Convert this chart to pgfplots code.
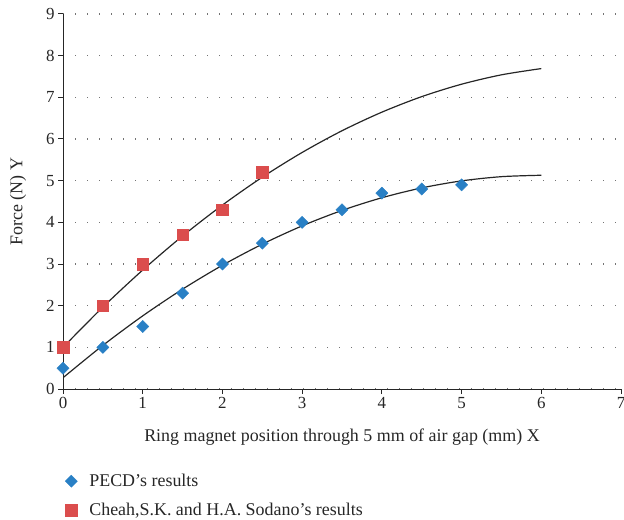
\documentclass[border=0pt]{standalone}
\usepackage{pgfplots}
\pgfplotsset{compat=1.18}
\usepackage{fontspec}
\setmainfont{Liberation Serif}
\definecolor{pblue}{RGB}{41,128,197}
\definecolor{pred}{RGB}{219,77,77}
\begin{document}
\begin{tikzpicture}
\begin{axis}[
  scale only axis, width=558bp, height=375bp,
  xmin=0, xmax=7, ymin=0, ymax=9,
  xtick={0,1,2,3,4,5,6,7}, ytick={0,1,2,3,4,5,6,7,8,9},
  axis x line=bottom, axis y line=left,
  axis line style={-, line width=1bp, black!85},
  tick align=outside, major tick length=5bp,
  tick style={black!85, line width=1bp},
  ymajorgrids,
  grid style={black!55, line width=1.2bp, dash pattern=on 1.2bp off 10.8bp},
  /pgf/number format/assume math mode=true,
  ticklabel style={font=\fontsize{17}{19}\selectfont, text=black!85},
  xlabel={Ring magnet position through 5 mm of air gap (mm) X},
  ylabel={Force (N) Y},
  xlabel style={at={([yshift=-48bp]rel axis cs:0.5,0)}, anchor=center, font=\fontsize{18}{20}\selectfont, text=black!85},
  ylabel style={at={([xshift=-45bp]rel axis cs:0,0.5)}, anchor=center, font=\fontsize{18}{20}\selectfont, text=black!85},
  legend style={at={([yshift=-81bp, xshift=-1bp]rel axis cs:0,0)}, anchor=north west, draw=none, fill=none,
    font=\fontsize{18}{20}\selectfont, row sep=11bp, text=black!85},
  legend cell align=left,
]
% trend lines
\addplot[black!85, line width=1.2bp, smooth, forget plot] coordinates {
(0,0.27) (0.5,1.046) (1,1.755) (1.5,2.396) (2,2.97) (2.5,3.476) (3,3.915)
(3.5,4.286) (4,4.59) (4.5,4.826) (5,4.995) (5.5,5.096) (6,5.13)};
\addplot[black!85, line width=1.2bp, smooth, forget plot] coordinates {
(0,1.0) (0.5,1.965) (1,2.855) (1.5,3.672) (2,4.414) (2.5,5.083) (3,5.677)
(3.5,6.198) (4,6.644) (4.5,7.017) (5,7.315) (5.5,7.54) (6,7.69)};
% data
\addplot[only marks, mark=square*, mark size=4.3bp, mark options={rotate=45, fill=pblue, draw=pblue}] coordinates {
(0,0.5) (0.5,1.0) (1,1.5) (1.5,2.3) (2,3.0) (2.5,3.5) (3,4.0) (3.5,4.3) (4,4.7) (4.5,4.8) (5,4.9)};
\addlegendentry{\hspace*{10bp}PECD’s results}
\addplot[only marks, mark=square*, mark size=5.8bp, mark options={fill=pred, draw=pred}] coordinates {
(0,1.0) (0.5,2.0) (1,3.0) (1.5,3.7) (2,4.3) (2.5,5.2)};
\addlegendentry{\hspace*{10bp}Cheah,S.K. and H.A. Sodano’s results}
\coordinate (O) at (rel axis cs:0,0);
\end{axis}
\pgfresetboundingbox
\path[use as bounding box] ([shift={(-63bp,-131bp)}]O) rectangle ([shift={(561bp,389bp)}]O);
\end{tikzpicture}
\end{document}
